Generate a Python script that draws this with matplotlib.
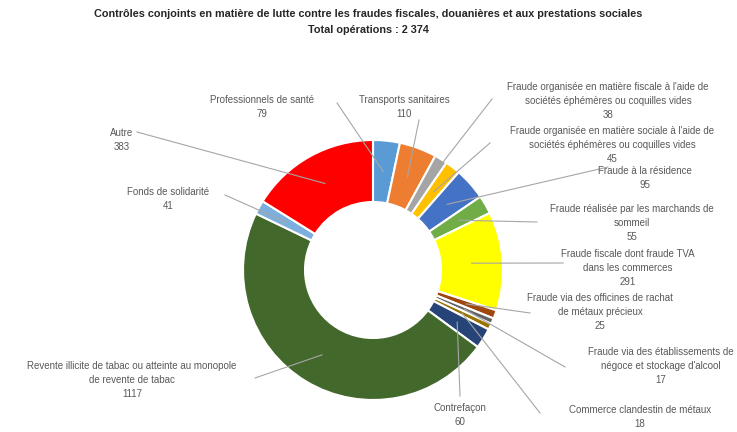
import matplotlib.pyplot as plt
import numpy as np

W, H = 737, 432

categories = [
    "Professionnels de santé",
    "Transports sanitaires",
    "Fraude organisée en matière fiscale à l'aide de\nsociétés éphémères ou coquilles vides",
    "Fraude organisée en matière sociale à l'aide de\nsociétés éphémères ou coquilles vides",
    "Fraude à la résidence",
    "Fraude réalisée par les marchands de\nsommeil",
    "Fraude fiscale dont fraude TVA\ndans les commerces",
    "Fraude via des officines de rachat\nde métaux précieux",
    "Fraude via des établissements de\nnégoce et stockage d'alcool",
    "Commerce clandestin de métaux",
    "Contrefaçon",
    "Revente illicite de tabac ou atteinte au monopole\nde revente de tabac",
    "Fonds de solidarité",
    "Autre",
]
values = [79, 110, 38, 45, 95, 55, 291, 25, 17, 18, 60, 1117, 41, 383]
colors = ["#5B9BD5", "#ED7D31", "#A5A5A5", "#FFC000", "#4472C4", "#70AD47",
          "#FFFF00", "#9E480E", "#636363", "#997300", "#264478", "#43682B",
          "#7CAFDD", "#FF0000"]

# label block centres and leader-line start points, in pixels from top-left
label_xy = [(262, 107), (404, 107), (608, 101), (612, 145), (645, 178),
            (632, 223), (628, 268), (600, 312), (661, 366), (640, 417),
            (460, 415), (132, 380), (168, 199), (122, 140)]
line_start = [(337, 103), (419, 120), (492, 99), (490, 143), (608, 167),
              (537, 222), (563, 263), (530, 313), (565, 367), (540, 413),
              (460, 396), (255, 378), (225, 195), (137, 132)]

fig = plt.figure(figsize=(W / 100, H / 100), dpi=100)
ax = fig.add_axes([0, 0, 1, 1])

cx, cy = 373, H - 270
R, ring = 130, 62
ax.pie(values, colors=colors, startangle=90, counterclock=False,
       center=(cx, cy), radius=R,
       wedgeprops=dict(width=ring, edgecolor='white', linewidth=1.5))
ax.set_xlim(0, W)
ax.set_ylim(0, H)
ax.set_aspect('equal')
ax.axis('off')

# leader lines + labels
total = sum(values)
cum = np.cumsum([0] + values)
r_mid = R - ring / 2
for i, (name, v) in enumerate(zip(categories, values)):
    frac = (cum[i] + v / 2) / total
    ang = np.pi / 2 - 2 * np.pi * frac
    ex, ey = cx + r_mid * np.cos(ang), cy + r_mid * np.sin(ang)
    sx, sy = line_start[i]
    ax.plot([sx, ex], [H - sy, ey], color='#A6A6A6', lw=0.8, zorder=3)
    tx, ty = label_xy[i]
    ax.text(tx, H - ty, f"{name}\n{v}", ha='center', va='center',
            fontsize=7, color='#595959', linespacing=1.45,
            family=['Liberation Sans', 'DejaVu Sans'])

title_font = dict(ha='center', va='center', fontsize=7.8, fontweight='bold',
                  color='#262626', family=['Liberation Sans', 'DejaVu Sans'])
fig.text(0.5, 1 - 14 / H,
         "Contrôles conjoints en matière de lutte contre les fraudes fiscales, douanières et aux prestations sociales",
         **title_font)
fig.text(0.5, 1 - 30 / H, "Total opérations : 2 374", **title_font)

fig.savefig('out.png', dpi=100, facecolor='white')
